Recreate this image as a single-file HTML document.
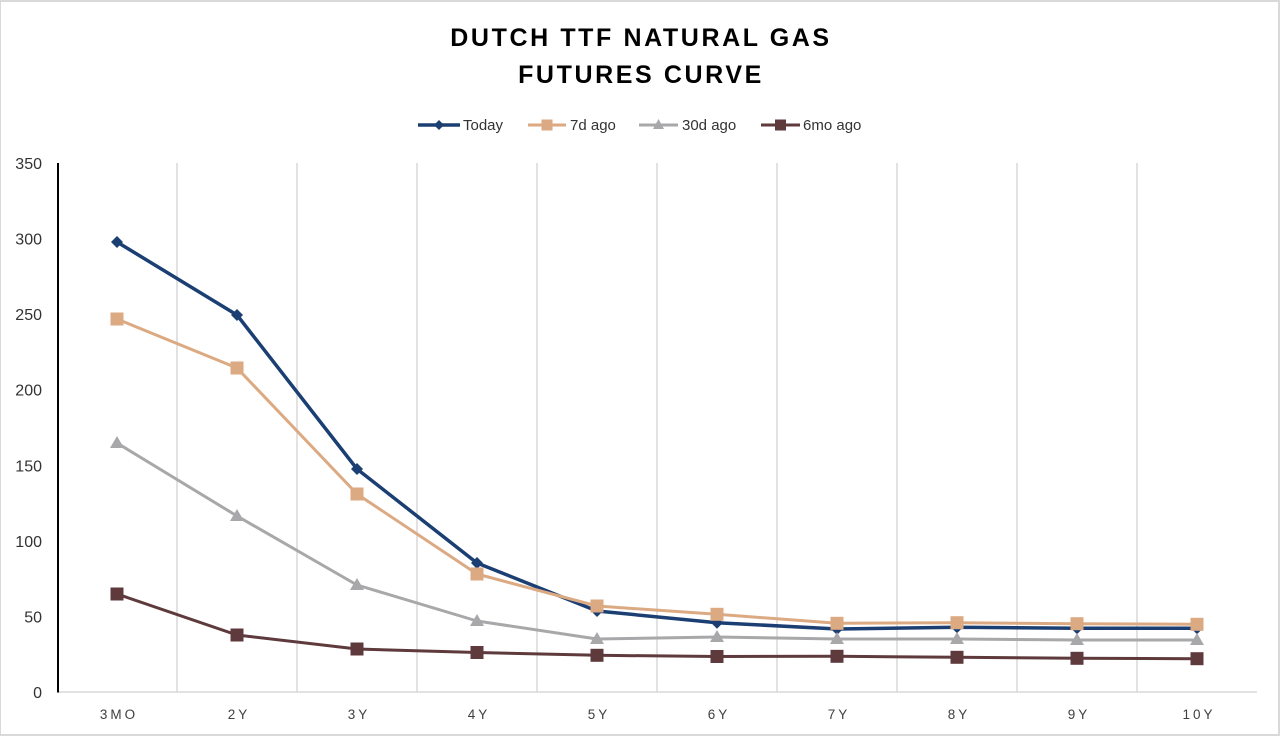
<!DOCTYPE html>
<html>
<head>
<meta charset="utf-8">
<style>
  html, body { margin: 0; padding: 0; background: #ffffff; }
  .wrap { width: 1280px; height: 736px; box-sizing: border-box; border: 2px solid #d9d9d9; border-left-width: 1px; position: relative; background: #fff; overflow: hidden; }
  svg { position: absolute; left: -1px; top: -2px; }
  text { font-family: "Liberation Sans", sans-serif; }
</style>
</head>
<body>
<div class="wrap">
<svg width="1280" height="736" viewBox="0 0 1280 736" xmlns="http://www.w3.org/2000/svg">
  <!-- Title -->
  <text x="641" y="46" text-anchor="middle" font-size="25" font-weight="bold" letter-spacing="2.6" fill="#000">DUTCH TTF NATURAL GAS</text>
  <text x="641" y="83" text-anchor="middle" font-size="25" font-weight="bold" letter-spacing="2.6" fill="#000">FUTURES CURVE</text>

  <!-- Legend -->
  <g>
    <line x1="418" y1="125" x2="460" y2="125" stroke="#1b3f72" stroke-width="3.5"/>
    <polygon points="439,120 444,125 439,130 434,125" fill="#1b3f72"/>
    <text x="463" y="130" font-size="15" fill="#333">Today</text>

    <line x1="528" y1="125" x2="566" y2="125" stroke="#dcaa82" stroke-width="3"/>
    <rect x="541.5" y="119.5" width="11" height="11" fill="#dcaa82"/>
    <text x="570" y="130" font-size="15" fill="#333">7d ago</text>

    <line x1="639" y1="125" x2="678" y2="125" stroke="#a8a8aa" stroke-width="3"/>
    <polygon points="658.5,119 664,129 653,129" fill="#a8a8aa"/>
    <text x="682" y="130" font-size="15" fill="#333">30d ago</text>

    <line x1="761" y1="125" x2="800" y2="125" stroke="#5e3a3c" stroke-width="3"/>
    <rect x="775" y="119.5" width="11" height="11" fill="#5e3a3c"/>
    <text x="803" y="130" font-size="15" fill="#333">6mo ago</text>
  </g>

  <!-- Gridlines -->
  <g stroke="#d9d9d9" stroke-width="1.5">
    <line x1="177" y1="163" x2="177" y2="692"/>
    <line x1="297" y1="163" x2="297" y2="692"/>
    <line x1="417" y1="163" x2="417" y2="692"/>
    <line x1="537" y1="163" x2="537" y2="692"/>
    <line x1="657" y1="163" x2="657" y2="692"/>
    <line x1="777" y1="163" x2="777" y2="692"/>
    <line x1="897" y1="163" x2="897" y2="692"/>
    <line x1="1017" y1="163" x2="1017" y2="692"/>
    <line x1="1137" y1="163" x2="1137" y2="692"/>
    <line x1="58" y1="692" x2="1257" y2="692"/>
  </g>
  <!-- Y axis -->
  <line x1="58" y1="163" x2="58" y2="692.5" stroke="#000" stroke-width="2"/>

  <!-- Y labels -->
  <g font-size="16" fill="#333" text-anchor="end">
    <text x="42" y="169">350</text>
    <text x="42" y="244.6">300</text>
    <text x="42" y="320.1">250</text>
    <text x="42" y="395.7">200</text>
    <text x="42" y="471.3">150</text>
    <text x="42" y="546.9">100</text>
    <text x="42" y="622.4">50</text>
    <text x="42" y="698">0</text>
  </g>

  <!-- X labels -->
  <g font-size="13.5" fill="#404040" text-anchor="middle" letter-spacing="3">
    <text x="119" y="719">3MO</text>
    <text x="239" y="719">2Y</text>
    <text x="359" y="719">3Y</text>
    <text x="479" y="719">4Y</text>
    <text x="599" y="719">5Y</text>
    <text x="719" y="719">6Y</text>
    <text x="839" y="719">7Y</text>
    <text x="959" y="719">8Y</text>
    <text x="1079" y="719">9Y</text>
    <text x="1199" y="719">10Y</text>
  </g>

  <!-- Today -->
  <polyline fill="none" stroke="#1b3f72" stroke-width="3.5" stroke-linejoin="round"
    points="117,242 237,315 357,469 477,563 597,611 717,622.7 837,629 957,627.3 1077,628.3 1197,628.3"/>
  <g fill="#1b3f72">
    <polygon points="117,236 123,242 117,248 111,242"/>
    <polygon points="237,309 243,315 237,321 231,315"/>
    <polygon points="357,463 363,469 357,475 351,469"/>
    <polygon points="477,557 483,563 477,569 471,563"/>
    <polygon points="597,605 603,611 597,617 591,611"/>
    <polygon points="717,616.7 723,622.7 717,628.7 711,622.7"/>
    <polygon points="837,623 843,629 837,635 831,629"/>
    <polygon points="957,621.3 963,627.3 957,633.3 951,627.3"/>
    <polygon points="1077,622.3 1083,628.3 1077,634.3 1071,628.3"/>
    <polygon points="1197,622.3 1203,628.3 1197,634.3 1191,628.3"/>
  </g>

  <!-- 7d ago -->
  <polyline fill="none" stroke="#dcaa82" stroke-width="3" stroke-linejoin="round"
    points="117,319 237,368 357,494 477,574 597,606 717,614.3 837,623.3 957,622.7 1077,623.7 1197,624.3"/>
  <g fill="#dcaa82">
    <rect x="110.5" y="312.5" width="13" height="13"/>
    <rect x="230.5" y="361.5" width="13" height="13"/>
    <rect x="350.5" y="487.5" width="13" height="13"/>
    <rect x="470.5" y="567.5" width="13" height="13"/>
    <rect x="590.5" y="599.5" width="13" height="13"/>
    <rect x="710.5" y="607.8" width="13" height="13"/>
    <rect x="830.5" y="616.8" width="13" height="13"/>
    <rect x="950.5" y="616.2" width="13" height="13"/>
    <rect x="1070.5" y="617.2" width="13" height="13"/>
    <rect x="1190.5" y="617.8" width="13" height="13"/>
  </g>

  <!-- 30d ago -->
  <polyline fill="none" stroke="#a8a8aa" stroke-width="3" stroke-linejoin="round"
    points="117,443 237,516 357,585 477,621 597,639 717,637 837,639 957,639 1077,640 1197,640"/>
  <g fill="#a8a8aa">
    <polygon points="117,436 124,448 110,448"/>
    <polygon points="237,509 244,521 230,521"/>
    <polygon points="357,578 364,590 350,590"/>
    <polygon points="477,614 484,626 470,626"/>
    <polygon points="597,632 604,644 590,644"/>
    <polygon points="717,630 724,642 710,642"/>
    <polygon points="837,632 844,644 830,644"/>
    <polygon points="957,632 964,644 950,644"/>
    <polygon points="1077,633 1084,645 1070,645"/>
    <polygon points="1197,633 1204,645 1190,645"/>
  </g>

  <!-- 6mo ago -->
  <polyline fill="none" stroke="#5e3a3c" stroke-width="3" stroke-linejoin="round"
    points="117,594 237,635 357,649 477,652.5 597,655.3 717,656.5 837,656.3 957,657.3 1077,658.3 1197,658.7"/>
  <g fill="#5e3a3c">
    <rect x="110.5" y="587.5" width="13" height="13"/>
    <rect x="230.5" y="628.5" width="13" height="13"/>
    <rect x="350.5" y="642.5" width="13" height="13"/>
    <rect x="470.5" y="646" width="13" height="13"/>
    <rect x="590.5" y="648.8" width="13" height="13"/>
    <rect x="710.5" y="650" width="13" height="13"/>
    <rect x="830.5" y="649.8" width="13" height="13"/>
    <rect x="950.5" y="650.8" width="13" height="13"/>
    <rect x="1070.5" y="651.8" width="13" height="13"/>
    <rect x="1190.5" y="652.2" width="13" height="13"/>
  </g>
</svg>
</div>
</body>
</html>
